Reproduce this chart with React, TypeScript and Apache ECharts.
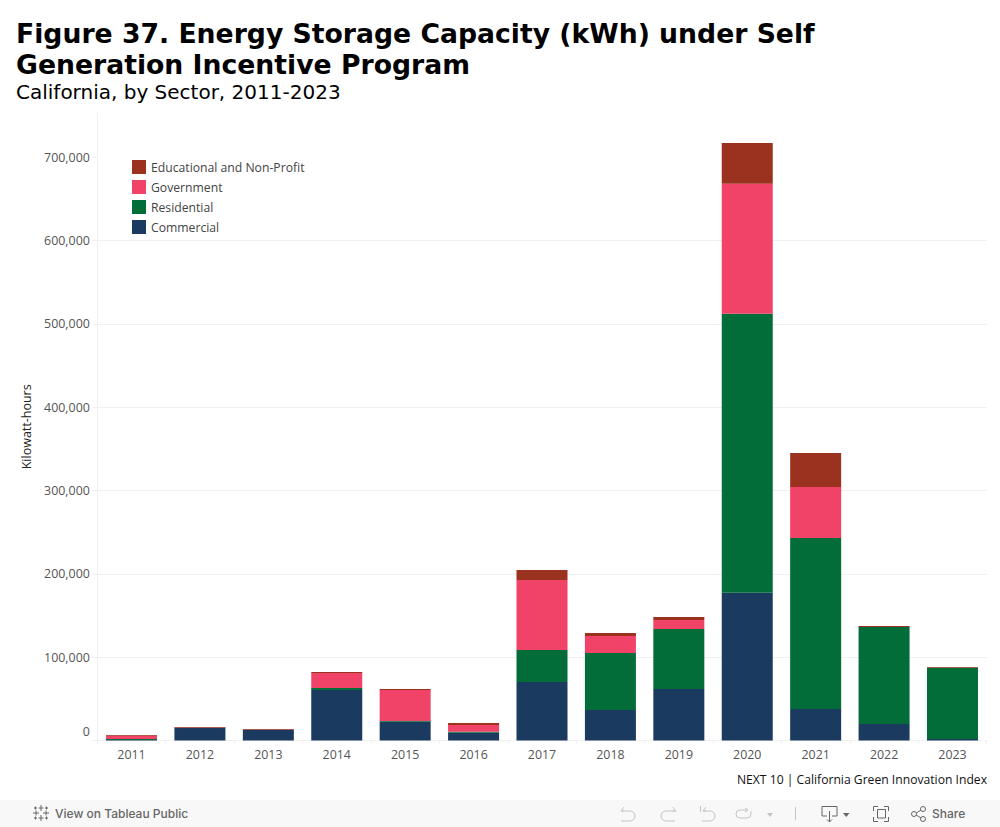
import React, { useEffect, useRef } from "react";
import * as echarts from "echarts";

const years = ["2011", "2012", "2013", "2014", "2015", "2016", "2017", "2018", "2019", "2020", "2021", "2022", "2023"];
const commercial = [700, 15300, 13000, 60700, 22700, 9500, 70400, 36700, 62000, 177300, 37900, 19900, 1900];
const residential = [1200, 0, 0, 2400, 900, 1200, 38400, 68400, 72000, 334800, 205200, 116400, 85600];
const government = [4000, 0, 0, 18000, 37200, 8000, 84000, 20400, 10800, 156000, 61200, 100, 0];
const educational = [800, 900, 900, 1200, 1200, 2400, 12000, 3600, 3600, 49000, 40800, 1200, 800];
const yTicks = [0, 100000, 200000, 300000, 400000, 500000, 600000, 700000];

const COLORS = { commercial: "#1b3a5f", residential: "#036d3a", government: "#f14267", educational: "#9b321f" };
const GRID = "#f0f0f0";
const LABEL_FONT = "Open Sans";

const iconPaths: Record<string, string> = {
  undoIcon: "M621 811H630A5 5 0 0 1 630 821H621M624 807L621 811L624 811",
  redoIcon: "M676 811H666A5 5 0 0 0 666 821H675M672.5 807L676 811L672.5 811",
  resetIcon: "M703 811H710A5 5 0 0 1 710 821H702M706 807L703 811L706 811M700.5 806V812",
  loopIcon: "M748 810H740A4 4 0 0 0 740 818H747A4 4 0 0 0 751 814V811M745 808L748 810L745 812",
  downloadIcon: "M827 816H822V806.5H837V816H832M829.5 811V822M827 819.5L829.5 822L832 819.5",
  fullIcon: "M873.5 811V806.5H878M884 806.5H888.5V811M888.5 817V821.5H884M878 821.5H873.5V817M877.5 809.5H885.5V818H877.5Z",
  shareIcon: "M916.3 813L921 810M916.3 815L921 818M916.5 814A2.5 2.5 0 1 1 911.5 814A2.5 2.5 0 1 1 916.5 814M925.5 809A2.5 2.5 0 1 1 920.5 809A2.5 2.5 0 1 1 925.5 809M925.5 819A2.5 2.5 0 1 1 920.5 819A2.5 2.5 0 1 1 925.5 819",
  logoIcon: "M41 805V811M38.5 808H43.5M41 815V821M38.5 818H43.5M33 813H39M36 810.5V815.5M43 813H49M46 810.5V815.5M35.5 806.5V809.5M34 808H37M46.5 806.5V809.5M45 808H48M35.5 816.5V819.5M34 818H37M46.5 816.5V819.5M45 818H48",
};
Object.entries(iconPaths).forEach(([k, d]) => {
  echarts.graphic.registerShape(k, echarts.graphic.extendPath(d, {}) as any);
});

export default function App() {
  const ref = useRef<HTMLDivElement>(null);
  useEffect(() => {
    document.body.style.margin = "0";
    document.body.style.overflow = "hidden";
    const chart = echarts.init(ref.current!, undefined, { renderer: "svg" });
    const light = "#c4c4c4";
    const dark = "#666666";
    const stroke = (type: string, color: string) => ({
      type, x: 0, y: 0, silent: true, style: { fill: null, stroke: color, lineWidth: 1 },
    });
    const bar = (name: string, data: number[], color: string) => ({
      name, type: "bar", stack: "total", data, barWidth: 51,
      itemStyle: { color }, emphasis: { disabled: true },
    });
    chart.setOption({
      animation: false,
      backgroundColor: "#ffffff",
      textStyle: { fontFamily: LABEL_FONT },
      grid: { left: 97.3, right: 13.3, top: 113, bottom: 86.4, containLabel: false },
      legend: {
        left: 127, top: 155, orient: "vertical", itemWidth: 14, itemHeight: 14, itemGap: 6,
        icon: "rect", selectedMode: false,
        data: ["Educational and Non-Profit", "Government", "Residential", "Commercial"],
        textStyle: { fontFamily: LABEL_FONT, fontSize: 12.2, color: "#444444", lineHeight: 14 },
      },
      xAxis: {
        type: "category", data: years, boundaryGap: true,
        axisLine: { show: true, onZero: false, lineStyle: { color: GRID } },
        axisTick: { show: true, length: 4, alignWithLabel: false, lineStyle: { color: GRID } },
        axisLabel: { fontFamily: LABEL_FONT, fontSize: 12.4, color: "#555555", margin: 7.5 },
      },
      yAxis: {
        type: "value", min: 0, max: 753100,
        name: "Kilowatt-hours", nameLocation: "middle", nameGap: 61, nameRotate: 90,
        nameTextStyle: { fontFamily: LABEL_FONT, fontSize: 12.5, color: "#222222" },
        axisLine: { show: true, lineStyle: { color: GRID } },
        axisTick: { show: true, length: 5, lineStyle: { color: GRID }, customValues: yTicks },
        axisLabel: {
          fontFamily: LABEL_FONT, fontSize: 12.4, color: "#555555", margin: 7.5, customValues: yTicks,
          formatter: (v: number) => (v === 0 ? "{z|0}" : v.toLocaleString("en-US")),
          rich: { z: { fontFamily: LABEL_FONT, fontSize: 12.4, color: "#555555", padding: [0, 0, 18, 0] } },
        },
        splitLine: { show: true, showMinLine: true, showMaxLine: false, lineStyle: { color: GRID, width: 1 } },
      },
      series: [
        bar("Commercial", commercial, COLORS.commercial),
        bar("Residential", residential, COLORS.residential),
        bar("Government", government, COLORS.government),
        bar("Educational and Non-Profit", educational, COLORS.educational),
      ],
      graphic: [
        { type: "text", x: 16, y: 20, silent: true, style: { text: "Figure 37. Energy Storage Capacity (kWh) under Self", font: "bold 26.67px 'DejaVu Sans'", fill: "#000" } },
        { type: "text", x: 16, y: 51, silent: true, style: { text: "Generation Incentive Program", font: "bold 26.67px 'DejaVu Sans'", fill: "#000" } },
        { type: "text", x: 16, y: 82, silent: true, style: { text: "California, by Sector, 2011-2023", font: "20px 'DejaVu Sans'", fill: "#000" } },
        { type: "text", x: 987, y: 773, silent: true, style: { text: "NEXT 10 | California Green Innovation Index", font: "12.15px 'Open Sans'", fill: "#111", align: "right" } },
        { type: "rect", silent: true, shape: { x: 0, y: 800, width: 1000, height: 27 }, style: { fill: "#f8f8f8" } },
        { type: "text", x: 55, y: 807, silent: true, style: { text: "View on Tableau Public", font: "500 12px Inter", fill: dark } },
        { type: "text", x: 932, y: 807, silent: true, style: { text: "Share", font: "500 12px Inter", fill: dark } },
        stroke("logoIcon", dark),
        stroke("undoIcon", light),
        stroke("redoIcon", light),
        stroke("resetIcon", light),
        stroke("loopIcon", light),
        { type: "polygon", silent: true, shape: { points: [[767, 813], [773, 813], [770, 817]] }, style: { fill: light } },
        { type: "line", silent: true, shape: { x1: 795.5, y1: 807, x2: 795.5, y2: 820 }, style: { stroke: light, lineWidth: 1 } },
        stroke("downloadIcon", dark),
        { type: "polygon", silent: true, shape: { points: [[843, 813], [849.5, 813], [846.2, 817]] }, style: { fill: dark } },
        stroke("fullIcon", dark),
        stroke("shareIcon", dark),
      ],
    });
    return () => chart.dispose();
  }, []);
  return <div ref={ref} style={{ width: 1000, height: 827 }} />;
}
